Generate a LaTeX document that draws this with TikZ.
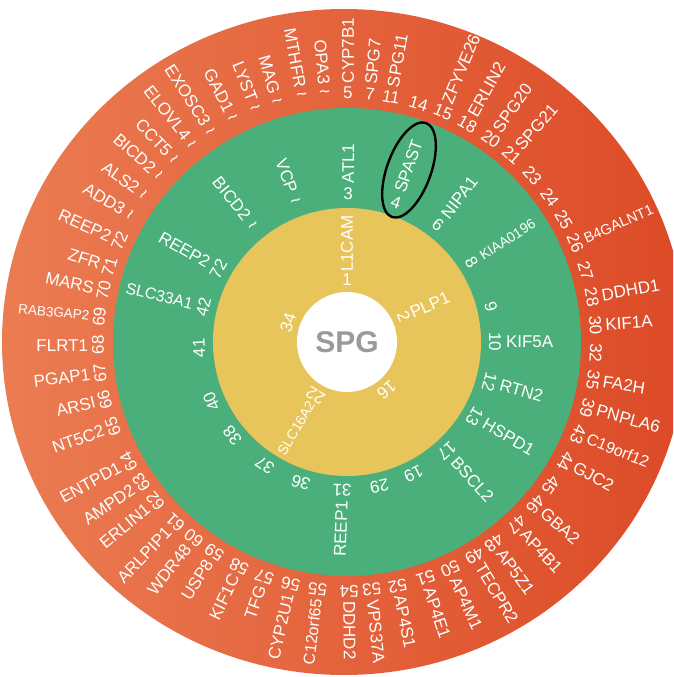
\documentclass[tikz,border=0pt]{standalone}
\usepackage{fontspec}
\setmainfont{Liberation Sans}
\definecolor{oL}{RGB}{235,124,82}
\definecolor{oR}{RGB}{220,74,38}
\definecolor{ringgreen}{RGB}{75,175,123}
\definecolor{ringyellow}{RGB}{232,197,91}
\definecolor{spggray}{RGB}{154,154,154}
\tikzset{
  lab/.style={text=white,inner sep=0pt,outer sep=0pt},
}
\newcommand\tld{{\fontsize{19}{19}\selectfont\char"7E\relax}}
\newcommand\ringlabels[4]{%
  \foreach \a/\n/\g/\s [count=\i] in {#4} {
    \pgfmathsetmacro\nr{\a-90}
    \node[lab, rotate=\nr, font=\fontsize{17}{17}\selectfont] (#1n\i) at (\a:#2) {\n};
    \ifx\g\empty\else
      \pgfmathtruncatemacro\side{cos(\a)>=0}
      \ifnum\side=1
        \node[lab, rotate=\a, anchor=west, font=\fontsize{\s}{\s}\selectfont] (#1g\i) at (\a:#3) {\g};
      \else
        \pgfmathsetmacro\gr{\a+180}
        \node[lab, rotate=\gr, anchor=east, font=\fontsize{\s}{\s}\selectfont] (#1g\i) at (\a:#3) {\g};
      \fi
    \fi
  }%
}
\begin{document}
\begin{tikzpicture}[x=1pt,y=1pt]
\useasboundingbox (-347,-335) rectangle (326,342);
\clip (-347,-335) rectangle (326,342);
\shade[left color=oL,right color=oR] (-3,0) ellipse [x radius=342, y radius=333];
\fill[ringgreen] (0,0) circle (234);
\fill[ringyellow] (0,0) circle (134);
\fill[white] (0,0) circle (50);
\node (spg) [font=\fontsize{30}{30}\selectfont\bfseries, text=spggray] at (0,0) {SPG};
% outer ring
\ringlabels{o}{249}{259}{
95.1/\tld/OPA3/17, 89.8/5/CYP7B1/17, 84.7/7/SPG7/17, 79.8/11/SPG11/17,
73.3/14//17, 67.3/15/ZFYVE26/17, 61.1/18/ERLIN2/17, 54.7/20/SPG20/17,
48.6/21/SPG21/17, 41.9/23//17, 35.5/24//17, 29.5/25//17, 23.5/26/B4GALNT1/14.5,
16.7/27//17, 10.4/28/DDHD1/17, 3.9/30/KIF1A/17, -2.5/32//17, -8.8/35/FA2H/17,
-15.3/39/PNPLA6/17, -21.8/43/C19orf12/16, -28.6/44/GJC2/17, -35.1/45//17,
-40.8/46/GBA2/17, -47.1/47/AP4B1/17, -53.8/48/AP5Z1/17, -59.2/49/TECPR2/17,
-65.5/50/AP4M1/17, -71.6/51/AP4E1/17, -78.3/52/AP4S1/17, -84.3/53/VPS37A/17,
-89.5/54/DDHD2/17, -96.8/55/C12orf65/16, -103.1/56/CYP2U1/17, -109.4/57/TFG/17,
-115.7/58/KIF1C/17, -122.2/59/USP8/17, -128/60/WDR48/17, -133.6/61/ARLPIP1/17,
-140.3/62/ERLIN1/17, -145.7/63/AMPD2/17, -151.3/64/ENTPD1/17, -160.1/65/NT5C2/17,
-166.6/66/ARSI/17, -172.8/67/PGAP1/17, 180.7/68/FLRT1/17, 174.2/69/RAB3GAP2/13.5,
167.9/70/MARS/17, 162.4/71/ZFR/17, 156/72/REEP2/17,
149.5/\tld/ADD3/17, 144/\tld/ALS2/17, 138.4/\tld/BICD2/17,
133.4/\tld/CCT5/17, 128.1/\tld/ELOVL4/17, 122.9/\tld/EXOSC3/17,
117/\tld/GAD1/17, 111.4/\tld/LYST/17, 106.2/\tld/MAG/17,
100.4/\tld/MTHFR/17}
% middle ring
\ringlabels{m}{148}{159}{
89.6/3/ATL1/17, 70.7/4/SPAST/17, 52.1/6/NIPA1/17, 32.6/8/KIAA0196/14,
13.6/9//17, 0/10/KIF5A/17, -15.6/12/RTN2/17, -30.4/13/HSPD1/17,
-47.6/17/BSCL2/17, -63.3/19//17, -77.3/29//17, -91.9/31/REEP1/17,
-108.2/36//17, -123.7/37//17, -140.8/38//17, -156.3/40//17, 182.3/41//17,
166.2/42/SLC33A1/16, 150.4/72/REEP2/17, 128.8/\tld/BICD2/17,
110/\tld/VCP/17}
% inner ring
\ringlabels{y}{62}{70}{
90/1/L1CAM/17, 24/2/PLP1/17, -50.2/16//17, -120.5/22/SLC16A2/14, 161.6/34//17}
% highlight
\draw[line width=2.4pt, rotate around={70:(62,172)}] (62,172) ellipse [x radius=50, y radius=22];
\end{tikzpicture}
\end{document}
